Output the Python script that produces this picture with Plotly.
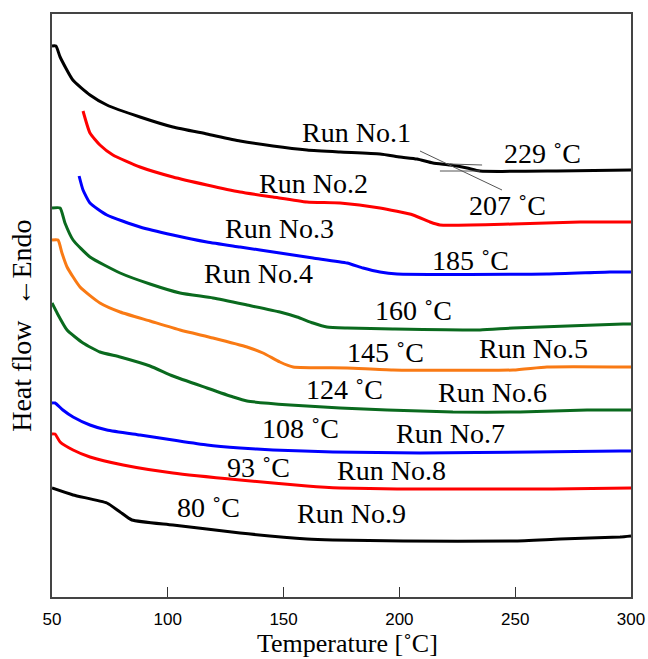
import plotly.graph_objects as go

# ---- data (temperature in °C, heat flow in arbitrary units) ----
run1_T = [50, 51.7, 53.5, 59, 66.4, 73.7, 88, 102.2, 116.9, 131.2, 145.4, 160.1, 174.4, 191.6, 200.3, 207.6, 214.5, 221.9, 229.2, 234.8, 268, 300]
run1_H = [55.1, 55.1, 54.0, 51.7, 50.2, 49.2, 48.0, 47.0, 46.3, 45.6, 45.1, 44.7, 44.5, 44.3, 44.0, 43.8, 43.4, 43.2, 42.9, 42.6, 42.6, 42.7]

run2_T = [63.4, 66.4, 70.7, 76.3, 88, 102.2, 116.9, 131.2, 145.4, 160.1, 174.4, 191.6, 205.9, 213.2, 217.5, 249.1, 278, 300]
run2_H = [48.6, 46.4, 45.2, 44.2, 43.0, 42.0, 41.2, 40.5, 40.0, 39.5, 39.4, 38.9, 38.2, 37.5, 37.2, 37.3, 37.5, 37.5]

run3_T = [61.7, 63.4, 66.4, 73.7, 88, 102.2, 116.9, 131.2, 148.4, 162.7, 177.4, 184.3, 191.6, 199.0, 263.7, 290.9, 300]
run3_H = [42.1, 40.7, 39.4, 38.2, 37.0, 36.2, 35.5, 35.0, 34.4, 33.9, 33.4, 32.9, 32.5, 32.3, 32.3, 32.5, 32.5]

run4_T = [50, 53.5, 55.6, 59.1, 66.4, 79.4, 92.3, 105.3, 119.5, 134.2, 148.4, 155.8, 162.7, 168.7, 177.4, 197.2, 234.8, 249.1, 296.6, 300]
run4_H = [38.9, 38.9, 37.4, 35.7, 34.0, 32.4, 31.3, 30.4, 29.9, 29.2, 28.5, 28.0, 27.4, 27.0, 26.9, 26.8, 26.7, 26.9, 27.3, 27.3]

run5_T = [50, 52.6, 54.3, 56.5, 62.1, 70.7, 79.4, 92.3, 105.3, 119.5, 134.2, 141.1, 148.4, 154.1, 177.4, 197.2, 249.1, 263.7, 300]
run5_H = [35.7, 35.7, 34.4, 33.0, 31.0, 29.4, 28.5, 27.6, 26.7, 25.9, 25.0, 24.4, 23.5, 23.0, 22.9, 22.7, 22.7, 23.0, 23.0]

run6_T = [50, 52.2, 56.5, 63.4, 70.7, 79.4, 92.3, 102.2, 116.9, 128.2, 134.2, 152.8, 174.4, 194.7, 223.1, 252.1, 281, 300]
run6_H = [29.4, 28.4, 26.7, 25.4, 24.5, 24.0, 23.1, 22.1, 20.9, 20.0, 19.6, 19.2, 18.9, 18.7, 18.5, 18.5, 18.7, 18.7]

run7_T = [50, 51.3, 54.7, 59.1, 66.4, 73.7, 88, 102.2, 116.9, 131.2, 145.4, 171.3, 208.9, 257.7, 295.3, 300]
run7_H = [19.4, 19.4, 18.7, 18.0, 17.2, 16.7, 16.2, 15.7, 15.2, 14.9, 14.7, 14.5, 14.4, 14.5, 14.6, 14.6]

run8_T = [50, 51.3, 53.5, 59.1, 66.4, 80.7, 102.2, 131.2, 160.1, 174.4, 199.0, 266.3, 300]
run8_H = [16.3, 16.3, 15.5, 14.7, 14.0, 13.2, 12.4, 11.7, 11.1, 10.9, 10.8, 10.8, 10.9]

run9_T = [50, 59.1, 73.7, 79.4, 84.5, 102.2, 131.2, 160.1, 171.3, 201.6, 249.1, 269.4, 295.3, 300]
run9_H = [10.9, 10.2, 9.4, 8.5, 7.7, 7.2, 6.4, 5.8, 5.7, 5.6, 5.6, 5.8, 6.0, 6.1]

run_colors = ["#000000", "#ff0000", "#0000ff", "#0a6a1e", "#f97a14",
              "#0a6a1e", "#0000ff", "#ff0000", "#000000"]

# label text and positions (T, heat flow)
run_labels = ["Run No.1", "Run No.2", "Run No.3", "Run No.4", "Run No.5",
              "Run No.6", "Run No.7", "Run No.8", "Run No.9"]
run_label_T = [181.3, 163.1, 148.4, 139.0, 257.7, 240.4, 221.9, 196.8, 179.1]
run_label_H = [46.5, 41.4, 36.9, 32.4, 24.9, 20.5, 16.4, 12.7, 8.4]

tg_labels = ["229 ˚C", "207 ˚C", "185 ˚C", "160 ˚C", "145 ˚C",
             "124 ˚C", "108 ˚C", "93 ˚C", "80 ˚C"]
tg_label_T = [262.0, 246.5, 230.5, 206.3, 193.8, 176.1, 157.5, 139.0, 117.4]
tg_label_H = [44.4, 39.2, 33.7, 28.7, 24.5, 20.8, 16.9, 13.0, 9.0]

# tangent construction lines on Run No.1 (T0, H0, T1, H1)
tangent_lines = [
    (208.9, 44.6, 244.3, 40.7),
    (217.5, 42.6, 234.8, 42.6),
    (221.9, 43.3, 235.7, 43.2),
]

x_ticks = [50, 100, 150, 200, 250, 300]

runs = [(run1_T, run1_H), (run2_T, run2_H), (run3_T, run3_H), (run4_T, run4_H),
        (run5_T, run5_H), (run6_T, run6_H), (run7_T, run7_H), (run8_T, run8_H),
        (run9_T, run9_H)]

fig = go.Figure()
for (T, H), c, name in zip(runs, run_colors, run_labels):
    fig.add_trace(go.Scatter(x=T, y=H, mode="lines", name=name,
                             line=dict(color=c, width=3, shape="spline", smoothing=0.5),
                             showlegend=False))

for (t0, h0, t1, h1) in tangent_lines:
    fig.add_shape(type="line", x0=t0, y0=h0, x1=t1, y1=h1, xref="x", yref="y",
                  line=dict(color="#555555", width=1))

serif = "Liberation Serif, Times New Roman, serif"
for txt, t, h in zip(run_labels + tg_labels, run_label_T + tg_label_T, run_label_H + tg_label_H):
    fig.add_annotation(x=t, y=h, text=txt, showarrow=False, xanchor="center", yanchor="middle",
                       font=dict(family=serif, size=28, color="#000000"))

fig.add_annotation(x=0.51, y=-0.079, xref="paper", yref="paper", text="Temperature [˚C]",
                   showarrow=False, yanchor="middle",
                   font=dict(family=serif, size=26, color="#000000"))
fig.add_annotation(x=-0.052, y=0.465, xref="paper", yref="paper", text="Heat flow  ←Endo",
                   showarrow=False, textangle=-90, xanchor="center", yanchor="middle",
                   font=dict(family=serif, size=28, color="#000000"))

fig.update_layout(
    width=648, height=659,
    margin=dict(l=52, r=17, t=14, b=62, autoexpand=False),
    paper_bgcolor="white", plot_bgcolor="white",
    xaxis=dict(range=[50, 300], tickvals=x_ticks, ticktext=[str(v) for v in x_ticks],
               ticks="inside", ticklen=10, tickwidth=1.2, tickcolor="#333333",
               showgrid=False, zeroline=False, showline=True, linecolor="#444444",
               linewidth=1.5, mirror=True, automargin=False, ticklabelstandoff=6,
               tickfont=dict(family="Liberation Sans, Arial, sans-serif",
                             size=17, color="#000000")),
    yaxis=dict(range=[0, 58.3], showticklabels=False, ticks="", showgrid=False,
               zeroline=False, showline=True, linecolor="#444444", linewidth=1.5,
               mirror=True, automargin=False),
)

fig.write_html("out.html", config={"displayModeBar": False})

# remove the default page margin so the figure fills the window exactly
with open("out.html", "r", encoding="utf-8") as f:
    html = f.read()
html = html.replace("<head>", "<head><style>html,body{margin:0;padding:0;overflow:hidden;}</style>", 1)
with open("out.html", "w", encoding="utf-8") as f:
    f.write(html)
